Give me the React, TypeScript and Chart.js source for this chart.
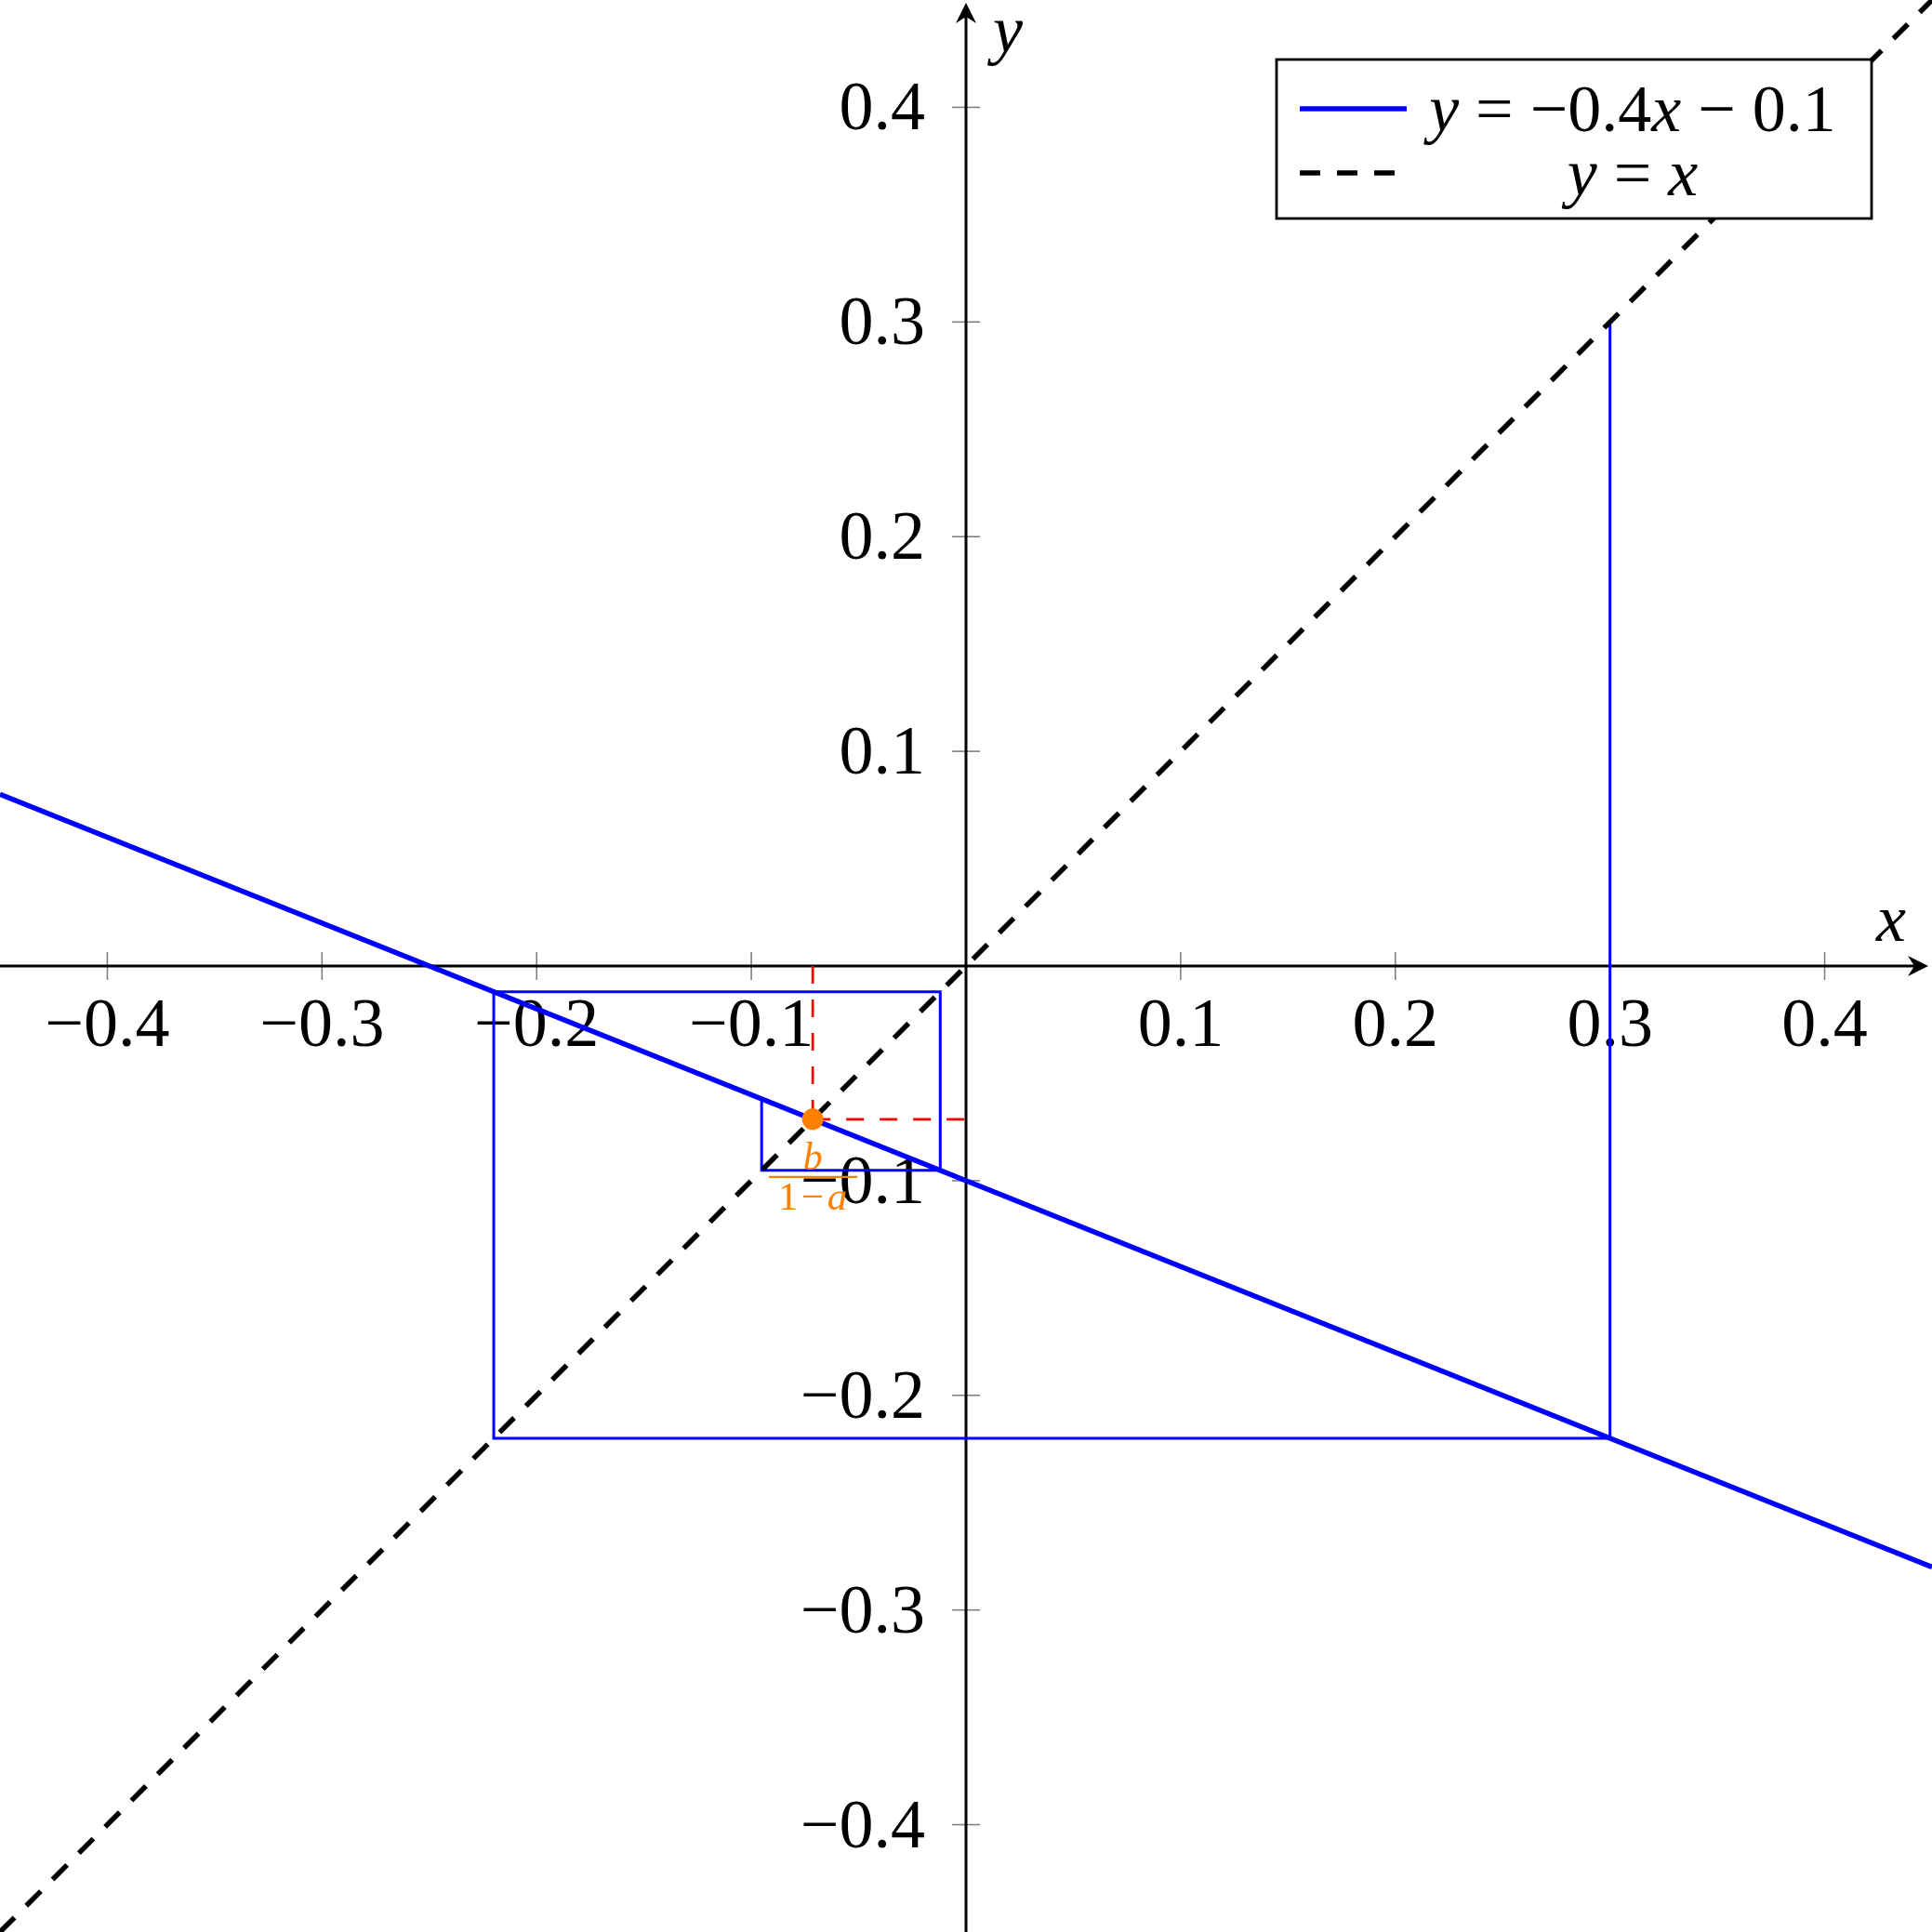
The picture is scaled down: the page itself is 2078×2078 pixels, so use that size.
import { useEffect, useRef } from "react"
import { Chart, registerables } from "chart.js"

Chart.register(...registerables)

const SIZE = 2078
const SERIF = '"Liberation Serif", "DejaVu Serif", serif'

// axis range (both axes)
const axisMin = -0.45
const axisMax = 0.45
const tickValues = [-0.4, -0.3, -0.2, -0.1, 0.1, 0.2, 0.3, 0.4]
const tickLabels = ["−0.4", "−0.3", "−0.2", "−0.1", "0.1", "0.2", "0.3", "0.4"]

// y = -0.4x - 0.1, read at the frame edges
const mapX = [-0.45, 0.45]
const mapY = [0.08, -0.28]

// y = x
const diagX = [-0.45, 0.45]
const diagY = [-0.45, 0.45]

// cobweb starting at x0 = 0.3
const webX = [0.3, 0.3, -0.22, -0.22, -0.012, -0.012, -0.0952, -0.0952]
const webY = [0.3, -0.22, -0.22, -0.012, -0.012, -0.0952, -0.0952, -0.0619]

// fixed point b/(1-a)
const fixedX = [-0.0714]
const fixedY = [-0.0714]

// red guides from the fixed point to the axes
const guideVX = [-0.0714, -0.0714]
const guideVY = [0, -0.0714]
const guideHX = [-0.0714, 0]
const guideHY = [-0.0714, -0.0714]

type Part = [string, boolean] // text, italic
const legendMap: Part[] = [["y", true], [" = −0.4", false], ["x", true], [" − 0.1", false]]
const legendDiag: Part[] = [["y", true], [" = ", false], ["x", true]]

const zip = (xs: number[], ys: number[]) => xs.map((x, i) => ({ x, y: ys[i] }))

function partsWidth(ctx: CanvasRenderingContext2D, parts: Part[], size: number) {
  let w = 0
  parts.forEach(([t, it]) => {
    ctx.font = `${it ? "italic " : ""}${size}px ${SERIF}`
    w += ctx.measureText(t).width
  })
  return w
}

function drawParts(ctx: CanvasRenderingContext2D, parts: Part[], size: number, cx: number, baseline: number) {
  let x = cx - partsWidth(ctx, parts, size) / 2
  ctx.textAlign = "left"
  ctx.textBaseline = "alphabetic"
  parts.forEach(([t, it]) => {
    ctx.font = `${it ? "italic " : ""}${size}px ${SERIF}`
    ctx.fillText(t, x, baseline)
    x += ctx.measureText(t).width
  })
}

function seg(ctx: CanvasRenderingContext2D, x1: number, y1: number, x2: number, y2: number) {
  ctx.beginPath()
  ctx.moveTo(x1, y1)
  ctx.lineTo(x2, y2)
  ctx.stroke()
}

const axesPlugin = {
  id: "middleAxes",
  beforeDatasetsDraw(chart: Chart) {
    const { ctx, width, height } = chart
    const xs = chart.scales.x
    const ys = chart.scales.y
    const ox = xs.getPixelForValue(0)
    const oy = ys.getPixelForValue(0)
    ctx.save()

    // tick marks
    ctx.strokeStyle = "#808080"
    ctx.lineWidth = 1.6
    tickValues.forEach((v) => {
      const px = xs.getPixelForValue(v)
      seg(ctx, px, oy - 15, px, oy + 15)
      const py = ys.getPixelForValue(v)
      seg(ctx, ox - 15, py, ox + 15, py)
    })

    // axis lines with arrow heads
    ctx.strokeStyle = "#000"
    ctx.fillStyle = "#000"
    ctx.lineWidth = 3
    const tipX = width - 4
    const tipY = 3
    seg(ctx, 0, oy, tipX - 8, oy)
    seg(ctx, ox, height, ox, tipY + 8)
    ctx.beginPath()
    ctx.moveTo(tipX, oy)
    ctx.lineTo(tipX - 22, oy - 11)
    ctx.lineTo(tipX - 15, oy)
    ctx.lineTo(tipX - 22, oy + 11)
    ctx.closePath()
    ctx.fill()
    ctx.beginPath()
    ctx.moveTo(ox, tipY)
    ctx.lineTo(ox - 11, tipY + 22)
    ctx.lineTo(ox, tipY + 15)
    ctx.lineTo(ox + 11, tipY + 22)
    ctx.closePath()
    ctx.fill()

    // tick labels
    ctx.font = `74px ${SERIF}`
    ctx.textBaseline = "alphabetic"
    ctx.textAlign = "center"
    tickValues.forEach((v, i) => ctx.fillText(tickLabels[i], xs.getPixelForValue(v), oy + 86))
    ctx.textAlign = "right"
    tickValues.forEach((v, i) => ctx.fillText(tickLabels[i], ox - 44, ys.getPixelForValue(v) + 24))

    // axis titles
    ctx.font = `italic 72px ${SERIF}`
    ctx.textAlign = "center"
    ctx.fillText("x", width - 44, oy - 27)
    ctx.fillText("y", ox + 45, 56)
    ctx.restore()
  },
  afterDatasetsDraw(chart: Chart) {
    const { ctx } = chart
    const px = chart.scales.x.getPixelForValue(fixedX[0])
    const py = chart.scales.y.getPixelForValue(fixedY[0])
    ctx.save()
    ctx.fillStyle = "#ff8000"
    ctx.strokeStyle = "#ff8000"
    ctx.font = `italic 42px ${SERIF}`
    ctx.textAlign = "center"
    ctx.textBaseline = "alphabetic"
    ctx.fillText("b", px, py + 54)
    ctx.lineWidth = 2.4
    seg(ctx, px - 47, py + 62, px + 48, py + 62)
    drawParts(ctx, [["1\u200a−\u200a", false], ["a", true]], 43, px, py + 97)

    // legend
    const bx = 1373
    const by = 64
    const bw = 640
    const bh = 171
    ctx.fillStyle = "#fff"
    ctx.fillRect(bx, by, bw, bh)
    ctx.strokeStyle = "#000"
    ctx.lineWidth = 2.8
    ctx.strokeRect(bx, by, bw, bh)
    const rows: { ds: number; parts: Part[]; y: number }[] = [
      { ds: 0, parts: legendMap, y: by + 53 },
      { ds: 1, parts: legendDiag, y: by + 122 },
    ]
    rows.forEach((r) => {
      const d = chart.data.datasets[r.ds] as any
      ctx.strokeStyle = d.borderColor
      ctx.lineWidth = d.borderWidth
      ctx.setLineDash(d.borderDash || [])
      seg(ctx, bx + 25, r.y, bx + (d.borderDash ? 129 : 140), r.y)
      ctx.setLineDash([])
      ctx.fillStyle = "#000"
      drawParts(ctx, r.parts, 72, bx + 383, r.y + 24)
    })
    ctx.restore()
  },
}

export default function App() {
  const chartRef = useRef<HTMLCanvasElement>(null)
  const chartInstance = useRef<Chart | null>(null)

  useEffect(() => {
    if (!chartRef.current) return
    if (chartInstance.current) {
      chartInstance.current.destroy()
    }
    const ctx = chartRef.current.getContext("2d")
    if (!ctx) return

    chartInstance.current = new Chart(ctx, {
      type: "scatter",
      data: {
        datasets: [
          {
            label: "y = −0.4x − 0.1",
            data: zip(mapX, mapY),
            showLine: true,
            borderColor: "#0000ff",
            borderWidth: 5.5,
            pointRadius: 0,
            order: 2,
          },
          {
            label: "y = x",
            data: zip(diagX, diagY),
            showLine: true,
            borderColor: "#000000",
            borderWidth: 5.5,
            borderDash: [22, 18],
            pointRadius: 0,
            order: 3,
          },
          {
            label: "cobweb",
            data: zip(webX, webY),
            showLine: true,
            borderColor: "#0000ff",
            borderWidth: 3,
            pointRadius: 0,
            order: 4,
          },
          {
            label: "guide v",
            data: zip(guideVX, guideVY),
            showLine: true,
            borderColor: "#ff0000",
            borderWidth: 2.7,
            borderDash: [19, 17],
            pointRadius: 0,
            order: 1,
          },
          {
            label: "guide h",
            data: zip(guideHX, guideHY),
            showLine: true,
            borderColor: "#ff0000",
            borderWidth: 2.7,
            borderDash: [19, 17],
            pointRadius: 0,
            order: 1,
          },
          {
            label: "b/(1-a)",
            data: zip(fixedX, fixedY),
            showLine: false,
            pointRadius: 11.5,
            pointBackgroundColor: "#ff8000",
            pointBorderWidth: 0,
            order: 0,
          },
        ],
      },
      options: {
        responsive: false,
        animation: false,
        events: [],
        layout: { padding: 0, autoPadding: false },
        scales: {
          x: { type: "linear", min: axisMin, max: axisMax, display: false },
          y: { type: "linear", min: axisMin, max: axisMax, display: false },
        },
        plugins: {
          legend: { display: false },
          tooltip: { enabled: false },
        },
      },
      plugins: [axesPlugin],
    })

    return () => {
      if (chartInstance.current) {
        chartInstance.current.destroy()
        chartInstance.current = null
      }
    }
  }, [])

  return (
    <div style={{ position: "absolute", left: 0, top: 0, width: SIZE, height: SIZE, background: "#fff" }}>
      <canvas ref={chartRef} width={SIZE} height={SIZE} style={{ display: "block" }} />
    </div>
  )
}
